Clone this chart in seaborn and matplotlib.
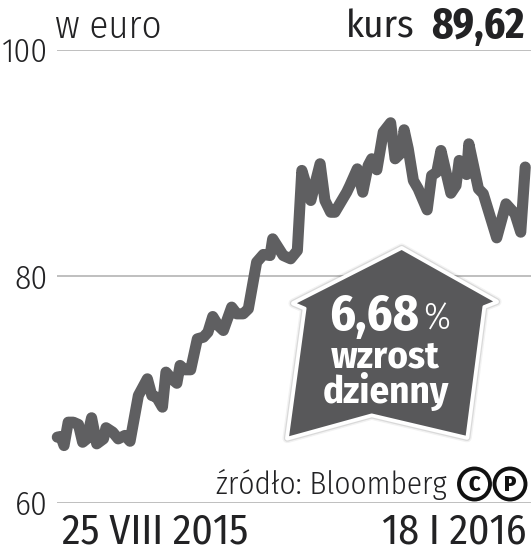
import matplotlib
matplotlib.use('Agg')
import matplotlib.pyplot as plt
import matplotlib.patheffects as pe
from matplotlib.patches import Polygon, Circle
from matplotlib.transforms import Affine2D
import pandas as pd
import seaborn as sns

sns.set_style('white')

# days since 25 VIII 2015
days = [0, 1.1, 2.1, 3.4, 5.0, 6.6, 7.9, 9.2, 10.7, 12.3, 14.4, 15.2, 17.3, 19.0, 21.1, 22.7,
        25.3, 28.1, 29.5, 31.0, 32.8, 33.9, 35.7, 37.3, 38.3, 39.8, 41.6, 43.7, 45.6, 47.0,
        48.5, 50.2, 51.8, 54.4, 56.0, 58.0, 59.6, 62.2, 64.3, 66.4, 67.2, 70.5, 72.8, 74.9,
        76.3, 79.1, 82.0, 83.5, 85.3, 86.6, 90.3, 91.3, 93.6, 95.3, 97.0, 98.1, 99.7, 101.7,
        104.0, 105.4, 107.5, 108.2, 109.5, 111.1, 112.6, 115.4, 116.8, 118.4, 119.7, 122.8,
        124.4, 125.4, 127.7, 128.4, 131.4, 132.9, 137.1, 140.0, 142.8, 144.6, 146.0]
kurs = [65.77, 65.83, 65.03, 67.09, 67.09, 66.89, 65.32, 65.62, 67.48, 65.18, 65.62, 66.6, 66.21,
        65.62, 65.92, 65.41, 69.45, 70.92, 69.45, 69.30, 68.42, 71.51, 70.92, 70.53, 72.10, 71.72,
        71.72, 74.45, 74.60, 75.04, 76.42, 75.63, 75.19, 77.25, 76.66, 76.66, 77.10, 81.22, 81.90,
        81.81, 83.28, 81.81, 81.52, 82.25, 89.32, 86.67, 89.91, 86.67, 85.63, 85.63, 87.40, 87.99,
        89.46, 87.40, 89.76, 90.35, 89.38, 92.70, 93.53, 90.35, 90.93, 92.91, 91.23, 88.43, 87.70,
        85.84, 88.87, 89.17, 91.08, 87.31, 87.99, 90.20, 88.96, 91.67, 87.70, 87.26, 83.37, 86.37,
        85.49, 83.87, 89.62]
y_ticks = [60, 80, 100]

W, H = 531, 551
COND = ['Fira Sans Condensed', 'Liberation Sans']
BOLD = ['Fira Sans Extra Condensed', 'Liberation Sans']
DARK = '#222224'

fig = plt.figure(figsize=(W / 100, H / 100), dpi=100)
ax = fig.add_axes([57.3 / W, (H - 502.5) / H, (W - 57.3) / W, 453 / H])
px = Affine2D().scale(1, -1).translate(0, H)  # picture pixels, origin top left

df = pd.DataFrame({'day': days, 'kurs': kurs})
sns.lineplot(data=df, x='day', y='kurs', ax=ax, color='#5f5f61', linewidth=8, clip_on=False,
             solid_joinstyle='round', solid_capstyle='round', zorder=3)

ax.set_xlim(0, 147.8)
ax.set_ylim(60, 100)
ax.set_yticks(y_ticks)
ax.set_xticks([])
ax.set_xlabel('')
ax.set_ylabel('')
ax.grid(axis='y', color='#b4b4b4', linewidth=1.2)
ax.set_axisbelow(True)
ax.tick_params(axis='y', length=0, pad=7, labelsize=24, labelcolor=DARK)
for lab in ax.get_yticklabels():
    lab.set_family(COND)
    lab.set_weight(300)
sns.despine(ax=ax, left=True, bottom=True)
ax.patch.set_alpha(0)


def put(x, y, s, size, ha='left', weight=300, color=DARK, family=COND):
    fig.text(x, y, s, transform=px, fontsize=size, ha=ha, va='baseline', family=family,
             weight=weight, color=color, zorder=6)


# header and footer
put(55, 38, 'w euro', 28)
put(415, 38, 'kurs', 28, ha='right', weight=400)
put(524, 38, '89,62', 32, ha='right', weight=700, family=BOLD)
put(447, 494, 'źródło: Bloomberg', 22.5, ha='right')
put(62, 544, '25 VIII 2015', 30, weight=400)
put(527, 544, '18 I 2016', 30, ha='right', weight=400)

# C and P marks
for cx, letter in [(474.5, 'C'), (510, 'P')]:
    fig.add_artist(Circle((cx, 484), 15.5, transform=px, fill=False, edgecolor='#111111', linewidth=2.8))
    put(cx, 491, letter, 16, ha='center', weight=800, color='#111111')

# arrow badge
arrow = [(401.7, 248.3), (496.7, 301.7), (484, 306.7), (467, 437.5), (371.7, 415),
         (287.3, 438.3), (305, 308.3), (293.3, 303.3)]
badge = Polygon(arrow, closed=True, transform=px, facecolor='#58585a', edgecolor='white',
                linewidth=2.2, joinstyle='round', zorder=5)
badge.set_path_effects([
    pe.Stroke(linewidth=7, foreground='#000000', alpha=0.05),
    pe.Stroke(linewidth=5, foreground='#000000', alpha=0.10),
    pe.Stroke(linewidth=3.2, foreground='white'),
    pe.Normal(),
])
fig.add_artist(badge)

put(329, 330, '6,68', 36, weight=700, color='white', family=COND)
put(423, 330, '%', 27, color='white')
put(385.5, 367, 'wzrost', 28, ha='center', weight=700, color='white')
put(385.5, 403, 'dzienny', 28, ha='center', weight=700, color='white')

plt.savefig('out.png', dpi=100)
plt.close()
